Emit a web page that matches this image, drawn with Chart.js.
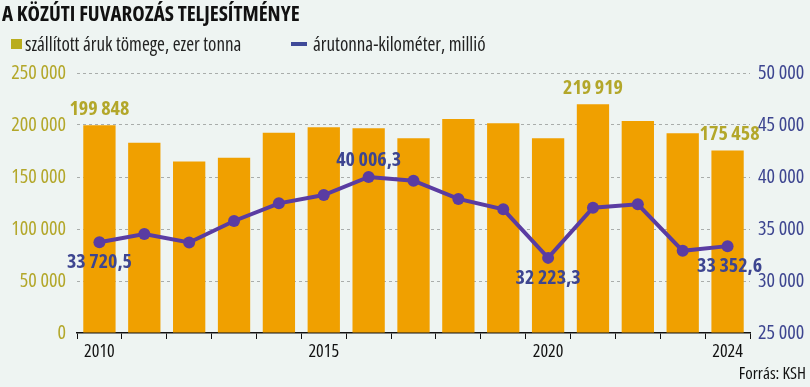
<!DOCTYPE html>
<html>
<head>
<meta charset="utf-8">
<script src="https://cdn.jsdelivr.net/npm/chart.js@4"></script>
<style>
  html, body { margin: 0; padding: 0; background: #eef4f2; }
  #wrap { position: relative; width: 810px; height: 387px; overflow: hidden; font-family: "Open Sans", sans-serif; font-stretch: 75%; }
  #myChart { position: absolute; left: 0; top: 0; }
  .title { position: absolute; left: 2px; top: -1px; font-size: 21px; font-weight: bold; color: #111; }
  .legend { position: absolute; top: 31px; font-size: 19px; color: #222; white-space: nowrap; }
  .sq { position: absolute; left: 11px; top: 39px; width: 11px; height: 10px; background: #b9ad1e; }
  .dash { position: absolute; left: 291px; top: 42px; width: 16px; height: 4px; background: #3f4a99; }
  .source { position: absolute; right: 4px; top: 361px; font-size: 17px; color: #111; }
</style>
</head>
<body>
<div id="wrap">
  <canvas id="myChart" width="810" height="387"></canvas>
  <div class="title">A KÖZÚTI FUVAROZÁS TELJESÍTMÉNYE</div>
  <div class="sq"></div>
  <div class="legend" style="left:25px">szállított áruk tömege, ezer tonna</div>
  <div class="dash"></div>
  <div class="legend" style="left:313px">árutonna-kilométer, millió</div>
  <div class="source">Forrás: KSH</div>
</div>
<script>
// adatok
const years = ["2010", "2011", "2012", "2013", "2014", "2015", "2016", "2017", "2018", "2019", "2020", "2021", "2022", "2023", "2024"];
const shownYears = ["2010", "2015", "2020", "2024"];
const tonnes = [199848, 183000, 165000, 168600, 192600, 197800, 196800, 187200, 205800, 201600, 187200, 219919, 203800, 192000, 175458];
const tonneKm = [33720.5, 34520, 33700, 35770, 37470, 38270, 40006.3, 39640, 37890, 36890, 32223.3, 37050, 37380, 32900, 33352.6];
// feliratozott pontok
const tonneLabels = [0, 11, 14];
const kmLabels = [0, 6, 10, 14];
const kmLabelBelow = [true, false, true, true];

const family = '"Open Sans", sans-serif';
const orange = "#f0a000";
const olive = "#b3a72a";
const navy = "#3d4590";
const purple = "#5a3ca2";

// szám formázás szóközzel
const fmt = (v, dec) => {
  let s = dec ? v.toFixed(1).replace(".", ",") : String(Math.round(v));
  let parts = s.split(",");
  parts[0] = parts[0].replace(/\B(?=(\d{3})+(?!\d))/g, " ");
  return parts.join(",");
};

// adatfeliratok rajzolása
const labelPlugin = {
  id: "labels",
  afterDatasetsDraw(chart) {
    const ctx = chart.ctx;
    ctx.save();
    ctx.font = "bold condensed 20px " + family;
    ctx.textAlign = "center";
    ctx.textBaseline = "middle";
    const bars = chart.getDatasetMeta(0).data;
    ctx.fillStyle = olive;
    tonneLabels.forEach((i) => {
      const b = bars[i];
      ctx.fillText(fmt(tonnes[i]), b.x + (i === 14 ? 2 : 0), b.y - 16);
    });
    const pts = chart.getDatasetMeta(1).data;
    ctx.fillStyle = navy;
    kmLabels.forEach((i, k) => {
      const p = pts[i];
      ctx.fillText(fmt(tonneKm[i], true), p.x + (i === 14 ? 2 : 0), kmLabelBelow[k] ? p.y + 20 : p.y - 17);
    });
    ctx.restore();
  },
};

const ctx = document.getElementById("myChart");
const chart = new Chart(ctx, {
  type: "bar",
  data: {
    labels: years,
    datasets: [
      {
        type: "bar",
        data: tonnes,
        backgroundColor: orange,
        yAxisID: "y",
        categoryPercentage: 1,
        barPercentage: 0.72,
        order: 2,
      },
      {
        type: "line",
        data: tonneKm,
        borderColor: purple,
        backgroundColor: purple,
        borderWidth: 4,
        pointRadius: 6,
        pointBackgroundColor: purple,
        pointBorderWidth: 0,
        yAxisID: "y1",
        order: 1,
      },
    ],
  },
  options: {
    responsive: false,
    animation: false,
    layout: { padding: { top: 73, bottom: 0, left: 0, right: 0 } },
    plugins: { legend: { display: false }, tooltip: { enabled: false } },
    scales: {
      x: {
        offset: true,
        border: { color: "#111", width: 1.5 },
        grid: { drawOnChartArea: false, drawTicks: true, tickLength: 6, color: "#111", offset: true },
        ticks: {
          autoSkip: false,
          maxRotation: 0,
          padding: 2,
          color: "#111",
          font: { family: family, weight: "condensed", size: 18 },
          callback: (v, i) => (shownYears.includes(years[i]) ? years[i] : ""),
        },
        afterFit: (s) => { s.height = 54; },
      },
      y: {
        position: "left",
        min: 0,
        max: 250000,
        border: { display: false, dash: [3, 3] },
        grid: {
          drawTicks: false,
          color: (c) => (c.tick.value === 0 ? "rgba(0,0,0,0)" : "#a9adab"),
          lineWidth: 1,
        },
        ticks: {
          stepSize: 50000,
          padding: 11,
          color: olive,
          font: { family: family, weight: "condensed", size: 20 },
          callback: (v) => fmt(v),
        },
        afterFit: (s) => { s.width = 77; },
      },
      y1: {
        position: "right",
        min: 25000,
        max: 50000,
        border: { display: false },
        grid: { drawOnChartArea: false, drawTicks: false },
        ticks: {
          stepSize: 5000,
          padding: 8,
          color: navy,
          font: { family: family, weight: "condensed", size: 20 },
          callback: (v) => fmt(v),
        },
        afterFit: (s) => { s.width = 60; },
      },
    },
  },
  plugins: [labelPlugin],
});
</script>
</body>
</html>
